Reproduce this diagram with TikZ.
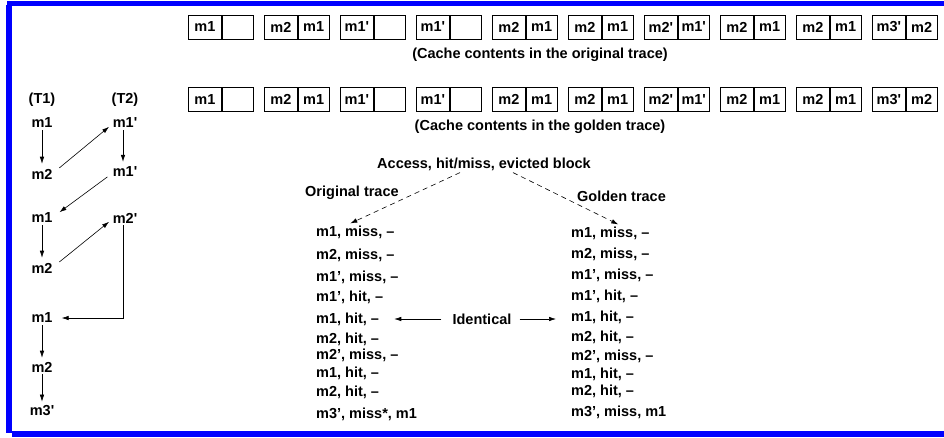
\documentclass[tikz,border=0pt]{standalone}
\usepackage{fontspec}
\setmainfont{Liberation Sans}
\usetikzlibrary{arrows.meta}

\begin{document}
\begin{tikzpicture}[x=1pt,y=-1pt,
        font=\fontsize{14.5}{16}\selectfont\bfseries,
        cellbox/.style={draw, line width=0.8pt, minimum height=24pt, inner sep=0pt, anchor=west},
        lbl/.style={inner sep=2pt},
        entry/.style={inner sep=2pt, anchor=west},
        arr/.style={-{Latex[length=7pt,width=4.5pt]}, line width=0.6pt}]
        \useasboundingbox (0,0) rectangle (944,437);
        % frame
        \fill[blue] (7,1) rectangle (944,6);
        \fill[blue] (6,5) rectangle (12,433);
        \fill[blue] (12,431) rectangle (944,437);
        % cache contents
        \foreach \i/\p/\q [evaluate=\i as \l using {188+76*(\i-1)}] in
            {1/m1/{}, 2/m2/m1, 3/m1\textquotesingle/{}, 4/m1\textquotesingle/{}, 5/m2/m1,
             6/m2/m1, 7/m2\textquotesingle/m1\textquotesingle, 8/m2/m1, 9/m2/m1, 10/m3\textquotesingle/m2} {
            \node[cellbox, minimum width=33pt] (oa\i) at (\l,27) {\p};
            \node[cellbox, minimum width=31pt] (ob\i) at (oa\i.east) {\q};
            \node[cellbox, minimum width=33pt] (ga\i) at (\l,99.5) {\p};
            \node[cellbox, minimum width=31pt] (gb\i) at (ga\i.east) {\q};
        }
        \node (ocap) at (540,55) {(Cache contents in the original trace)};
        \node (gcap) at (540,127) {(Cache contents in the golden trace)};
        % threads
        \node[lbl] (t1) at (42,100) {(T1)};
        \node[lbl] (t2) at (125,100) {(T2)};
        \node[lbl] (t1a) at (42,123) {m1};
        \node[lbl] (t1b) at (42,174) {m2};
        \node[lbl] (t1c) at (42,218) {m1};
        \node[lbl] (t1d) at (42,268) {m2};
        \node[lbl] (t1e) at (42,318) {m1};
        \node[lbl] (t1f) at (42,367) {m2};
        \node[lbl] (t1g) at (42,411) {m3\textquotesingle};
        \node[lbl] (t2a) at (125,123) {m1\textquotesingle};
        \node[lbl] (t2b) at (125,172) {m1\textquotesingle};
        \node[lbl] (t2c) at (125,218) {m2\textquotesingle};
        \draw[arr, shorten >=3pt] (t1a) -- (t1b);
        \draw[arr, shorten <=6pt, shorten >=2pt] (t1b.10) -- (t2a.190);
        \draw[arr, shorten >=3pt] (t2a.south -| 123,0) -- (t2b.north -| 123,0);
        \draw[arr, shorten <=4pt, shorten >=6pt] (t2b.190) -- (t1c.10);
        \draw[arr, shorten >=3pt] (t1c) -- (t1d);
        \draw[arr, shorten <=6pt, shorten >=2pt] (t1d.10) -- (t2c.190);
        \draw[arr, shorten >=7pt] (t2c.south -| 123,0) |- (t1e.east);
        \draw[arr, shorten >=2pt] (t1e) -- (t1f);
        \draw[arr, shorten >=2pt] (t1f) -- (t1g);
        % traces
        \node[lbl] (acc) at (484,164) {Access, hit/miss, evicted block};
        \node[entry] (orig) at (303,193) {Original trace};
        \node[entry] (gold) at (575,196) {Golden trace};
        \foreach \i/\y/\t in {1/232/{m1, miss, --}, 2/255/{m2, miss, --}, 3/277/{m1’, miss, --},
            4/297/{m1’, hit, --}, 5/319/{m1, hit, --}, 6/339/{m2, hit, --}, 7/355/{m2’, miss, --},
            8/373/{m1, hit, --}, 9/392/{m2, hit, --}, 10/414/{m3’, miss*, m1}}
            \node[entry] (o\i) at (314,\y) {\t};
        \foreach \i/\y/\t in {1/233/{m1, miss, --}, 2/254/{m2, miss, --}, 3/275/{m1’, miss, --},
            4/296/{m1’, hit, --}, 5/317/{m1, hit, --}, 6/337/{m2, hit, --}, 7/356/{m2’, miss, --},
            8/374/{m1, hit, --}, 9/391/{m2, hit, --}, 10/412/{m3’, miss, m1}}
            \node[entry] (g\i) at (569,\y) {\t};
        \draw[arr, dash pattern=on 5pt off 4pt] ([xshift=-24pt]acc.south) -- ([xshift=-5pt]o1.north);
        \draw[arr, dash pattern=on 5pt off 4pt] ([xshift=29pt]acc.south) -- ([xshift=8pt]g1.north);
        \node[lbl] (ident) at (482,319) {Identical};
        \draw[arr, shorten <=9pt, shorten >=13pt] (ident.west) -- (ident.west -| o5.east);
        \draw[arr, shorten <=6pt, shorten >=13pt] (ident.east) -- (ident.east -| g5.west);
\end{tikzpicture}
\end{document}
